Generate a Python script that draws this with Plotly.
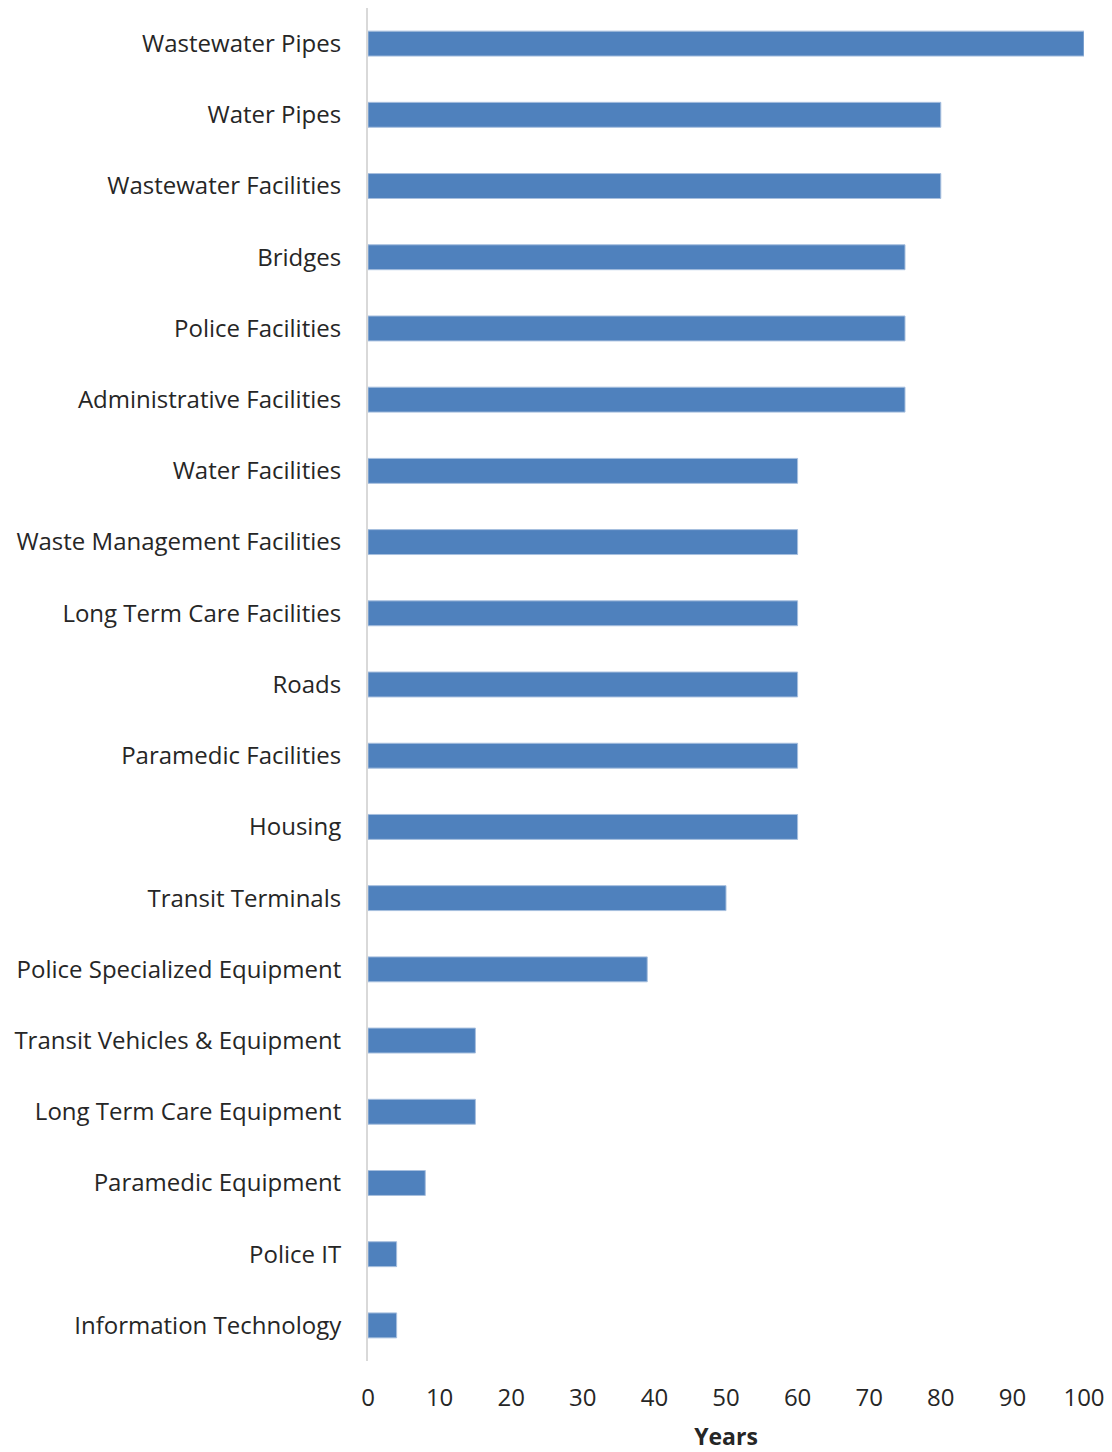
import plotly.graph_objects as go

categories = [
    "Wastewater Pipes", "Water Pipes", "Wastewater Facilities", "Bridges",
    "Police Facilities", "Administrative Facilities", "Water Facilities",
    "Waste Management Facilities", "Long Term Care Facilities", "Roads",
    "Paramedic Facilities", "Housing", "Transit Terminals",
    "Police Specialized Equipment", "Transit Vehicles & Equipment",
    "Long Term Care Equipment", "Paramedic Equipment", "Police IT",
    "Information Technology",
]
years = [100, 80, 80, 75, 75, 75, 60, 60, 60, 60, 60, 60, 50, 39, 15, 15, 8, 4, 4]
x_ticks = [0, 10, 20, 30, 40, 50, 60, 70, 80, 90, 100]

font_family = "'Open Sans', Lato, sans-serif"

fig = go.Figure(go.Bar(
    x=years, y=categories, orientation="h",
    marker=dict(color="#4F81BD", line=dict(color="#A7BFDE", width=1)),
))
fig.update_layout(
    width=1112, height=1452,
    margin=dict(l=360, r=36, t=0, b=99),
    paper_bgcolor="white", plot_bgcolor="white",
    bargap=0.65, showlegend=False,
    font=dict(family=font_family, size=24, color="#262626"),
)
fig.update_xaxes(
    range=[0, 100], tickvals=x_ticks, showgrid=False, zeroline=False,
    showline=False, ticks="", tickfont=dict(size=24),
    ticklabelstandoff=20,
    title=dict(text="<b>Years</b>", font=dict(size=23), standoff=16),
)
fig.update_yaxes(
    autorange="reversed", showgrid=False, zeroline=False,
    showline=True, linecolor="#D9D9D9", linewidth=2, ticks="",
    ticklabelstandoff=20, tickfont=dict(size=24),
)
fig.write_html("out.html")
